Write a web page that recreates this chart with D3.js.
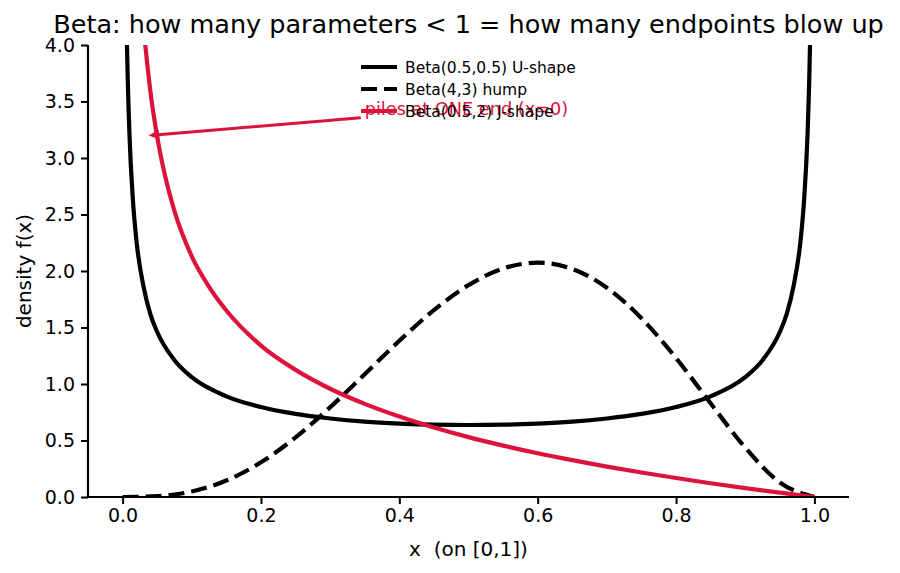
<!DOCTYPE html>
<html>
<head>
<meta charset="utf-8">
<script src="https://cdn.jsdelivr.net/npm/d3@7"></script>
<style>
  body { margin: 0; background: #fff; }
  svg { display: block; }
  text { font-family: "DejaVu Sans", sans-serif; fill: #000; white-space: pre; }
</style>
</head>
<body>
<div id="chart"></div>
<script>
// valori (densità stimate)
const uX = [0.002, 0.005, 0.007, 0.01, 0.015, 0.02, 0.03, 0.04, 0.05, 0.075, 0.1, 0.15, 0.2, 0.25, 0.3, 0.35, 0.4, 0.45, 0.5,
            0.55, 0.6, 0.65, 0.7, 0.75, 0.8, 0.85, 0.9, 0.925, 0.95, 0.96, 0.97, 0.98, 0.985, 0.99, 0.993, 0.995, 0.998];
const uY = [7.12, 4.51, 3.82, 3.20, 2.62, 2.27, 1.87, 1.62, 1.46, 1.21, 1.06, 0.891, 0.796, 0.735, 0.695, 0.667, 0.650, 0.640, 0.637,
            0.640, 0.650, 0.667, 0.695, 0.735, 0.796, 0.891, 1.06, 1.21, 1.46, 1.62, 1.87, 2.27, 2.62, 3.20, 3.82, 4.51, 7.12];

const humpX = [0, 0.05, 0.1, 0.15, 0.2, 0.25, 0.3, 0.35, 0.4, 0.45, 0.5, 0.55, 0.6, 0.65, 0.7, 0.75, 0.8, 0.85, 0.9, 0.95, 1.0];
const humpY = [0, 0.007, 0.049, 0.146, 0.307, 0.527, 0.794, 1.087, 1.382, 1.654, 1.875, 2.022, 2.074, 2.019, 1.852, 1.582, 1.229, 0.829, 0.437, 0.129, 0];

const jX = [0.02, 0.03, 0.04, 0.05, 0.06, 0.075, 0.1, 0.125, 0.15, 0.2, 0.25, 0.3, 0.35, 0.4, 0.45, 0.5, 0.55, 0.6, 0.65, 0.7, 0.75, 0.8, 0.85, 0.9, 0.95, 1.0];
const jY = [5.20, 4.20, 3.60, 3.19, 2.88, 2.53, 2.13, 1.86, 1.65, 1.34, 1.125, 0.958, 0.824, 0.712, 0.615, 0.530, 0.455, 0.387, 0.326, 0.269, 0.217, 0.168, 0.122, 0.079, 0.038, 0];

const seriesNames = ["Beta(0.5,0.5) U-shape", "Beta(4,3) hump", "Beta(0.5,2) J-shape"];
const xTicks = [0, 0.2, 0.4, 0.6, 0.8, 1.0];
const yTicks = [0, 0.5, 1, 1.5, 2, 2.5, 3, 3.5, 4];

const annText  = "piles at ONE end (x=0)";
const annPoint = [0.04, 3.2];   // punta della freccia
const annText0 = [0.35, 3.38];  // posizione del testo

const WIDTH = 900, HEIGHT = 573;
const M = { left: 88, right: 51, top: 45, bottom: 76 };
const RED = "#dc143c";
const LW = 4.2;

const svg = d3.select("#chart").append("svg")
  .attr("width", WIDTH).attr("height", HEIGHT);

const x = d3.scaleLinear().domain([-0.05, 1.05]).range([M.left, WIDTH - M.right]);
const y = d3.scaleLinear().domain([0, 4]).range([HEIGHT - M.bottom, M.top]);

svg.append("defs").append("clipPath").attr("id", "clip")
  .append("rect")
  .attr("x", M.left).attr("y", M.top)
  .attr("width", WIDTH - M.left - M.right).attr("height", HEIGHT - M.top - M.bottom);

const line = d3.line().x(d => x(d[0])).y(d => y(d[1])).curve(d3.curveMonotoneX);
const plot = svg.append("g").attr("clip-path", "url(#clip)");

const series = [
  { pts: d3.zip(uX, uY),       color: "#000", dash: null },
  { pts: d3.zip(humpX, humpY), color: "#000", dash: "16,7" },
  { pts: d3.zip(jX, jY),       color: RED,    dash: null }
];

series.forEach(s => {
  plot.append("path")
    .datum(s.pts)
    .attr("d", line)
    .attr("fill", "none")
    .attr("stroke", s.color)
    .attr("stroke-width", LW)
    .attr("stroke-dasharray", s.dash)
    .attr("stroke-linejoin", "round");
});

/* ── assi ─────────────────────────────── */
const xAxis = svg.append("g")
  .attr("transform", `translate(0,${HEIGHT - M.bottom})`)
  .call(d3.axisBottom(x).tickValues(xTicks).tickFormat(d3.format(".1f")).tickSizeOuter(0).tickSize(7).tickPadding(5));
const yAxis = svg.append("g")
  .attr("transform", `translate(${M.left},0)`)
  .call(d3.axisLeft(y).tickValues(yTicks).tickFormat(d3.format(".1f")).tickSizeOuter(0).tickSize(7).tickPadding(6));

[xAxis, yAxis].forEach(g => {
  g.select(".domain").attr("stroke", "#000").attr("stroke-width", 2.2);
  g.selectAll(".tick line").attr("stroke", "#000").attr("stroke-width", 2);
  g.selectAll(".tick text").attr("font-size", 19).attr("font-family", "DejaVu Sans").attr("fill", "#000");
});
// spine sinistra e inferiore fino ai bordi dell'area
xAxis.select(".domain").attr("d", `M${M.left},0H${WIDTH - M.right}`);
yAxis.select(".domain").attr("d", `M0,${HEIGHT - M.bottom}V${M.top}`);

svg.append("text")
  .attr("x", (M.left + WIDTH - M.right) / 2).attr("y", 33)
  .attr("text-anchor", "middle").attr("font-size", 25.5)
  .text("Beta: how many parameters < 1 = how many endpoints blow up");

svg.append("text")
  .attr("x", (M.left + WIDTH - M.right) / 2).attr("y", 556)
  .attr("text-anchor", "middle").attr("font-size", 20)
  .attr("xml:space", "preserve")
  .text("x  (on [0,1])");

svg.append("text")
  .attr("transform", `translate(24,${(M.top + HEIGHT - M.bottom) / 2}) rotate(-90)`)
  .attr("text-anchor", "middle").attr("dy", "0.35em").attr("font-size", 20)
  .text("density f(x)");

/* ── annotazione ──────────────────────── */
const ann = svg.append("g");
const annT = ann.append("text")
  .attr("x", x(annText0[0])).attr("y", y(annText0[1]))
  .attr("font-size", 17.7).style("fill", RED)
  .text(annText);
const bb = annT.node().getBBox();
const cx = bb.x + bb.width / 2, cy = bb.y + bb.height / 2;
const tx = x(annPoint[0]), ty = y(annPoint[1]);
// punto d'uscita sul bordo sinistro del riquadro del testo
const sx = bb.x - 4;
const sy = cy + (sx - cx) * (ty - cy) / (tx - cx);
const ang = Math.atan2(ty - sy, tx - sx);
const hl = 8, hw = 3.5;
const bx = tx - hl * Math.cos(ang), by = ty - hl * Math.sin(ang);
ann.append("line")
  .attr("x1", sx).attr("y1", sy).attr("x2", bx).attr("y2", by)
  .attr("stroke", RED).attr("stroke-width", 3);
ann.append("path")
  .attr("d", `M${tx},${ty}L${bx + hw * Math.sin(ang)},${by - hw * Math.cos(ang)}L${bx - hw * Math.sin(ang)},${by + hw * Math.cos(ang)}Z`)
  .attr("fill", RED).attr("stroke", RED).attr("stroke-width", 1.5);

/* ── legenda (senza cornice, sopra l'annotazione) ── */
const leg = svg.append("g").attr("transform", "translate(361,67)");
series.forEach((s, i) => {
  const row = leg.append("g").attr("transform", `translate(0,${i * 22})`);
  row.append("line")
    .attr("x1", 0).attr("x2", 36).attr("y1", 0).attr("y2", 0)
    .attr("stroke", s.color).attr("stroke-width", LW)
    .attr("stroke-dasharray", s.dash);
  row.append("text")
    .attr("x", 44).attr("dy", "0.36em")
    .attr("font-size", 15.5)
    .text(seriesNames[i]);
});
</script>
</body>
</html>
